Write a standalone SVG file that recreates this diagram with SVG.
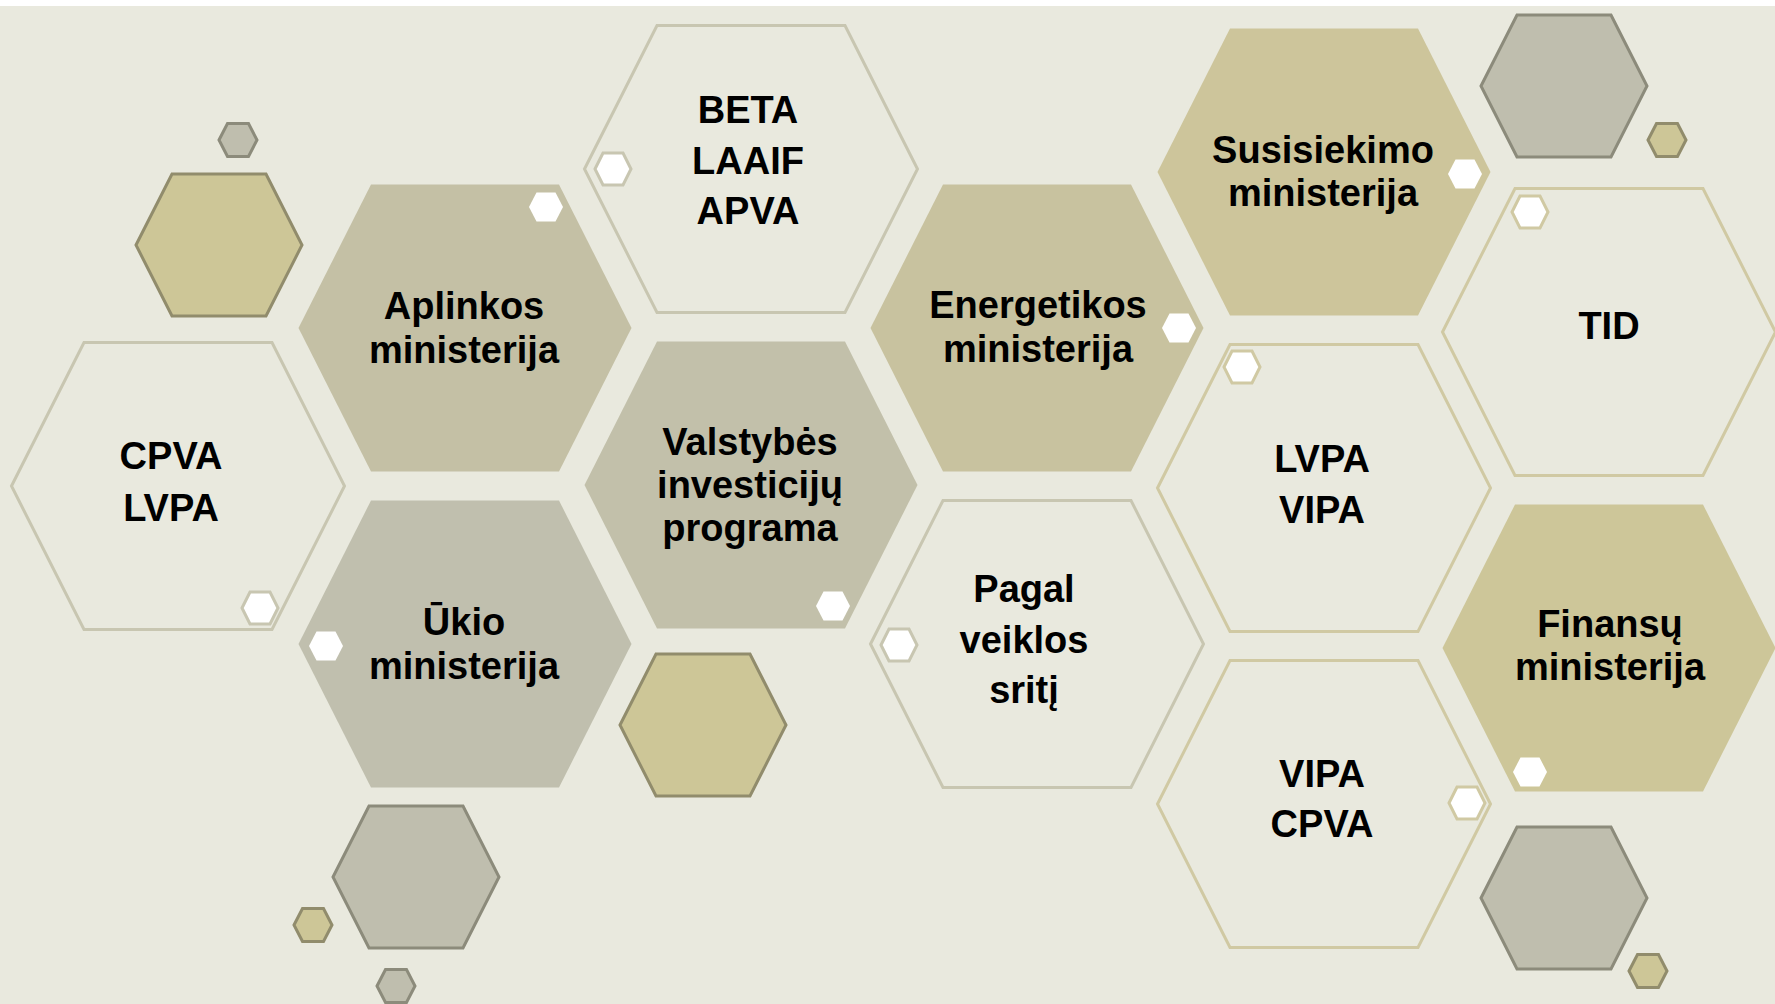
<svg xmlns="http://www.w3.org/2000/svg" xmlns:xlink="http://www.w3.org/1999/xlink" width="1775" height="1004" viewBox="0 0 1775 1004">
<style>
.t{font-family:"Liberation Sans",Arial,sans-serif;font-weight:bold;font-size:38px;fill:#000;text-anchor:middle}
.o{fill:#e9e9de;stroke-width:3}
.og{stroke:#c8c6b1}
.oy{stroke:#d0c9a3}
.dot{fill:#ffffff}
.dotg{fill:#ffffff;stroke:#c8c6b1;stroke-width:3}
.doty{fill:#ffffff;stroke:#d0c9a3;stroke-width:3}
.dy{fill:#cdc697;stroke:#918c6c;stroke-width:3}
.dg{fill:#bfbeae;stroke:#8c8b7b;stroke-width:3}
</style>
<defs>
<polygon id="H" points="-166.5,0 -94,-143.5 94,-143.5 166.5,0 94,143.5 -94,143.5"/>
<polygon id="M" points="-83,0 -47,-71 47,-71 83,0 47,71 -47,71"/>
<polygon id="S" points="-19,0 -10.5,-16.5 10.5,-16.5 19,0 10.5,16.5 -10.5,16.5"/>
<polygon id="D" points="-17,0 -9.5,-14.5 9.5,-14.5 17,0 9.5,14.5 -9.5,14.5"/>
<polygon id="DO" points="-18,0 -10,-16 10,-16 18,0 10,16 -10,16"/>
</defs>
<rect x="0" y="0" width="1775" height="1004" fill="#ffffff"/>
<rect x="0" y="6" width="1775" height="998" fill="#e9e9de"/>

<g id="decor">
<use href="#S" x="238" y="140" class="dg"/>
<use href="#M" x="219" y="245" class="dy"/>
<use href="#M" x="1564" y="86" class="dg"/>
<use href="#S" x="1667" y="140" class="dy"/>
<use href="#M" x="703" y="725" class="dy"/>
<use href="#M" x="416" y="877" class="dg"/>
<use href="#S" x="313" y="925" class="dy"/>
<use href="#S" x="396" y="986" class="dg"/>
<use href="#M" x="1564" y="898" class="dg"/>
<use href="#S" x="1648" y="971" class="dy"/>
</g>

<g id="node-cpva-lvpa">
<use href="#H" x="178" y="486" class="o og"/>
<use href="#DO" x="260" y="608" class="dotg"/>
<text class="t" x="171" y="469">CPVA</text>
<text class="t" x="171" y="521">LVPA</text>
</g>

<g id="node-aplinkos">
<use href="#H" x="465" y="328" fill="#c4c0a5"/>
<use href="#D" x="546" y="207" class="dot"/>
<text class="t" x="464" y="319">Aplinkos</text>
<text class="t" x="464" y="363">ministerija</text>
</g>

<g id="node-ukio">
<use href="#H" x="465" y="644" fill="#c0bfae"/>
<use href="#D" x="326" y="646" class="dot"/>
<text class="t" x="464" y="635">Ūkio</text>
<text class="t" x="464" y="679">ministerija</text>
</g>

<g id="node-beta">
<use href="#H" x="751" y="169" class="o og"/>
<use href="#DO" x="613" y="169" class="dotg"/>
<text class="t" x="748" y="123">BETA</text>
<text class="t" x="748" y="174">LAAIF</text>
<text class="t" x="748" y="224">APVA</text>
</g>

<g id="node-vip">
<use href="#H" x="751" y="485" fill="#c2c0aa"/>
<use href="#D" x="833" y="606" class="dot"/>
<text class="t" x="750" y="455">Valstybės</text>
<text class="t" x="750" y="498">investicijų</text>
<text class="t" x="750" y="541">programa</text>
</g>

<g id="node-energetikos">
<use href="#H" x="1037" y="328" fill="#c8c29f"/>
<use href="#D" x="1179" y="328" class="dot"/>
<text class="t" x="1038" y="318">Energetikos</text>
<text class="t" x="1038" y="362">ministerija</text>
</g>

<g id="node-pagal">
<use href="#H" x="1037" y="644" class="o og"/>
<use href="#DO" x="899" y="645" class="dotg"/>
<text class="t" x="1024" y="602">Pagal</text>
<text class="t" x="1024" y="653">veiklos</text>
<text class="t" x="1024" y="703">sritį</text>
</g>

<g id="node-susisiekimo">
<use href="#H" x="1324" y="172" fill="#cdc59b"/>
<use href="#D" x="1465" y="174" class="dot"/>
<text class="t" x="1323" y="163">Susisiekimo</text>
<text class="t" x="1323" y="206">ministerija</text>
</g>

<g id="node-lvpa-vipa">
<use href="#H" x="1324" y="488" class="o oy"/>
<use href="#DO" x="1242" y="367" class="doty"/>
<text class="t" x="1322" y="472">LVPA</text>
<text class="t" x="1322" y="523">VIPA</text>
</g>

<g id="node-vipa-cpva">
<use href="#H" x="1324" y="804" class="o oy"/>
<use href="#DO" x="1467" y="803" class="doty"/>
<text class="t" x="1322" y="787">VIPA</text>
<text class="t" x="1322" y="837">CPVA</text>
</g>

<g id="node-tid">
<use href="#H" x="1609" y="332" class="o oy"/>
<use href="#DO" x="1530" y="212" class="doty"/>
<text class="t" x="1609" y="339">TID</text>
</g>

<g id="node-finansu">
<use href="#H" x="1609" y="648" fill="#cdc699"/>
<use href="#D" x="1530" y="772" class="dot"/>
<text class="t" x="1610" y="637">Finansų</text>
<text class="t" x="1610" y="680">ministerija</text>
</g>

<g id="connectors"></g>
</svg>
